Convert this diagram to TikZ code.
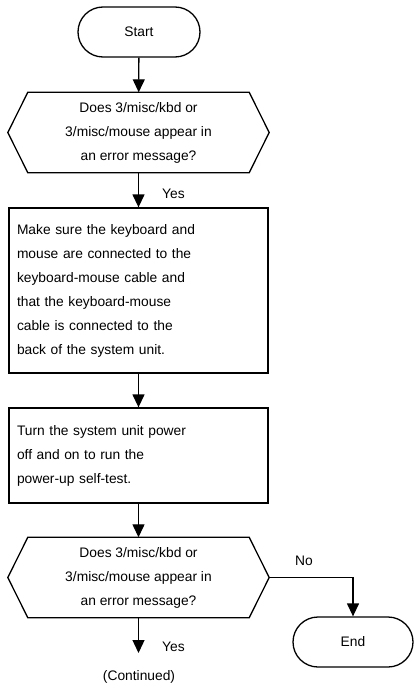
\documentclass[tikz,border=0pt]{standalone}
\usepackage{fontspec}
\setmainfont{Liberation Sans}
\usetikzlibrary{arrows.meta}
\tikzset{
  line/.style={line width=1.3pt, black},
  arr/.style={line, -{Triangle[length=13pt,width=12pt]}},
  txt/.style={font=\fontsize{13.8}{24}\selectfont},
  term/.style={txt, draw, line width=1.3pt, rounded corners=25pt, minimum width=122pt, minimum height=50pt, inner sep=0pt},
  hexnode/.style={txt, minimum width=261pt, minimum height=80pt, inner sep=0pt, align=center},
  stepbox/.style={txt, draw, line width=1.3pt, inner xsep=8pt, inner ysep=0pt, text width=243pt, align=left},
  lbl/.style={txt, inner sep=0pt}
}
\newcommand\drawhex[1]{\draw[line] (#1.west) -- ([xshift=20pt]#1.north west) -- ([xshift=-20pt]#1.north east) -- (#1.east) -- ([xshift=-20pt]#1.south east) -- ([xshift=20pt]#1.south west) -- cycle;}
\begin{document}
\begin{tikzpicture}[x=1pt,y=-1pt]
\useasboundingbox (0,0) rectangle (414,690);
\node[term] (start) at (139,32) {Start};
\node[hexnode] (q1) at (138.5,132.5) {Does 3/misc/kbd or\\3/misc/mouse appear in\\an error message?};
\drawhex{q1}
\node[stepbox, minimum height=165pt] (box1) at (138.5,290.5) {Make sure the keyboard and\\mouse are connected to the\\keyboard-mouse cable and\\that the keyboard-mouse\\cable is connected to the\\back of the system unit.};
\node[stepbox, minimum height=95pt] (box2) at (138.5,455.5) {Turn the system unit power\\off and on to run the\\power-up self-test.};
\node[hexnode] (q2) at (138.5,577.5) {Does 3/misc/kbd or\\3/misc/mouse appear in\\an error message?};
\drawhex{q2}
\node[term, minimum width=120pt] (end) at (353,642) {End};
\coordinate (cont) at (138.5,653);
\node[lbl, anchor=west] (yes1) at (162,194) {Yes};
\node[lbl, anchor=west] (yes2) at (162,647) {Yes};
\node[lbl] (no) at (304,561) {No};
\node[lbl] (contd) at (139,677) {(Continued)};
\draw[arr] (start) -- (q1);
\draw[arr] (q1) -- (box1);
\draw[arr] (box1) -- (box2);
\draw[arr] (box2) -- (q2);
\draw[arr] (q2.east) -| (end.north);
\draw[arr] (q2.south) -- (cont);
\end{tikzpicture}
\end{document}
